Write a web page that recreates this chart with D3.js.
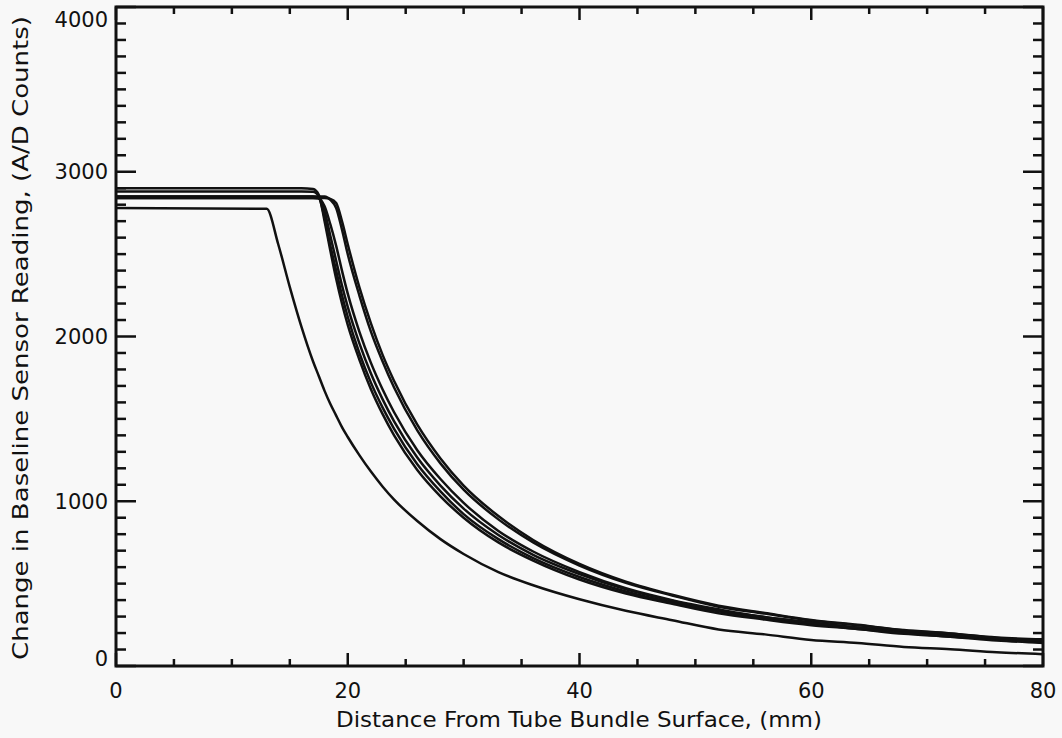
<!DOCTYPE html>
<html>
<head>
<meta charset="utf-8">
<script src="https://cdn.jsdelivr.net/npm/d3@7"></script>
<style>
  html, body { margin: 0; padding: 0; background: #f8f8f8; }
  svg { display: block; }
  text { font-family: "DejaVu Sans", sans-serif; fill: #111; }
</style>
</head>
<body>
<script>
// distance grid (mm) shared by all traces
var xs = [0, 13, 14, 15, 16, 17, 17.5, 18, 18.5, 19, 19.5, 20, 21, 22, 23, 24, 26, 28, 30, 33, 36, 40, 44, 48, 52, 56, 60, 64, 68, 72, 76, 80];

// sensor traces, A/D counts
var traceL = [2780, 2775, 2560, 2300, 2060, 1850, 1760, 1670, 1590, 1520, 1450, 1390, 1280, 1180, 1090, 1010, 880, 770, 680, 570, 490, 405, 335, 278, 222, 192, 158, 140, 115, 102, 84, 72];
var traceA = [2900, 2900, 2900, 2900, 2900, 2895, 2860, 2700, 2520, 2350, 2200, 2070, 1860, 1680, 1530, 1400, 1190, 1030, 900, 750, 640, 525, 440, 378, 320, 282, 248, 224, 195, 178, 155, 140];
var traceB = [2880, 2880, 2880, 2880, 2880, 2878, 2850, 2720, 2550, 2400, 2250, 2120, 1900, 1720, 1570, 1440, 1225, 1060, 922, 770, 655, 540, 452, 385, 332, 288, 257, 225, 202, 178, 162, 143];
var traceC = [2850, 2850, 2850, 2850, 2850, 2850, 2840, 2760, 2610, 2460, 2310, 2180, 1960, 1775, 1620, 1485, 1265, 1095, 955, 795, 675, 558, 465, 396, 336, 298, 260, 234, 204, 187, 163, 150];
var traceD = [2840, 2840, 2840, 2840, 2840, 2840, 2838, 2790, 2680, 2550, 2400, 2260, 2030, 1840, 1680, 1540, 1310, 1135, 990, 820, 695, 570, 472, 400, 344, 296, 266, 233, 212, 186, 170, 150];
var traceE = [2850, 2850, 2850, 2850, 2850, 2850, 2850, 2850, 2830, 2780, 2650, 2500, 2250, 2030, 1850, 1690, 1430, 1230, 1070, 890, 750, 610, 505, 428, 360, 318, 276, 247, 216, 197, 173, 162];
var traceF = [2840, 2840, 2840, 2840, 2840, 2840, 2840, 2840, 2835, 2810, 2700, 2560, 2300, 2080, 1890, 1730, 1465, 1260, 1095, 910, 765, 620, 512, 432, 366, 322, 280, 250, 218, 198, 170, 156];
var traces = [traceL, traceA, traceB, traceC, traceD, traceE, traceF];

var xMajor = [0, 20, 40, 60, 80];
var yMajor = [0, 1000, 2000, 3000, 4000];

(function() {
  var W = 1062, H = 738;
  var pl = 116, pr = 1043, pt = 7, pb = 666;

  var svg = d3.select("body").append("svg")
    .attr("width", W).attr("height", H);

  var x = d3.scaleLinear().domain([0, 80]).range([pl, pr]);
  var y = d3.scaleLinear().domain([0, 4000]).range([pb, pt]);

  // traces
  var line = d3.line()
    .x(function(d) { return x(d[0]); })
    .y(function(d) { return y(d[1]); })
    .curve(d3.curveMonotoneX);

  svg.append("g").selectAll("path")
    .data(traces).enter()
    .append("path")
    .attr("d", function(t) { return line(xs.map(function(v, i) { return [v, t[i]]; })); })
    .attr("fill", "none")
    .attr("stroke", "#111")
    .attr("stroke-width", 2.5);

  // frame
  svg.append("rect")
    .attr("x", pl).attr("y", pt)
    .attr("width", pr - pl).attr("height", pb - pt)
    .attr("fill", "none").attr("stroke", "#111").attr("stroke-width", 3);

  // ticks, inward on all four sides
  var xMinor = d3.range(0, 81, 5), yMinor = d3.range(0, 4001, 100);
  function isMajorX(v) { return v % 20 == 0; }
  function isMajorY(v) { return v % 1000 == 0; }

  var ticks = svg.append("g").attr("stroke", "#111").attr("stroke-width", 2.5);
  ticks.selectAll("line.xb").data(xMinor).enter().append("line")
    .attr("x1", x).attr("x2", x)
    .attr("y1", pb).attr("y2", function(d) { return pb - (isMajorX(d) ? 13 : 7); });
  ticks.selectAll("line.xt").data(xMinor).enter().append("line")
    .attr("x1", x).attr("x2", x)
    .attr("y1", pt).attr("y2", function(d) { return pt + (isMajorX(d) ? 13 : 7); });
  ticks.selectAll("line.yl").data(yMinor).enter().append("line")
    .attr("y1", y).attr("y2", y)
    .attr("x1", pl).attr("x2", function(d) { return pl + (isMajorY(d) ? 20 : 10); });
  ticks.selectAll("line.yr").data(yMinor).enter().append("line")
    .attr("y1", y).attr("y2", y)
    .attr("x1", pr).attr("x2", function(d) { return pr - (isMajorY(d) ? 20 : 10); });

  // tick labels
  svg.selectAll("text.xl").data(xMajor).enter().append("text")
    .attr("x", x).attr("y", 698)
    .attr("text-anchor", "middle")
    .style("font-size", "21px")
    .text(function(d) { return d; });

  svg.selectAll("text.yl").data(yMajor).enter().append("text")
    .attr("x", 108)
    .attr("y", function(d) { return y(d) + (d == 0 ? -7 : d == 4000 ? 13 : 0); })
    .attr("dy", "0.35em")
    .attr("text-anchor", "end")
    .style("font-size", "21px")
    .text(function(d) { return d; });

  // axis titles
  svg.append("text")
    .attr("x", 579).attr("y", 727)
    .attr("text-anchor", "middle")
    .attr("textLength", 486).attr("lengthAdjust", "spacingAndGlyphs")
    .style("font-size", "21px")
    .text("Distance From Tube Bundle Surface, (mm)");

  svg.append("text")
    .attr("transform", "translate(28,338) rotate(-90)")
    .attr("text-anchor", "middle")
    .attr("textLength", 644).attr("lengthAdjust", "spacingAndGlyphs")
    .style("font-size", "21px")
    .text("Change in Baseline Sensor Reading, (A/D Counts)");
})();
</script>
</body>
</html>
